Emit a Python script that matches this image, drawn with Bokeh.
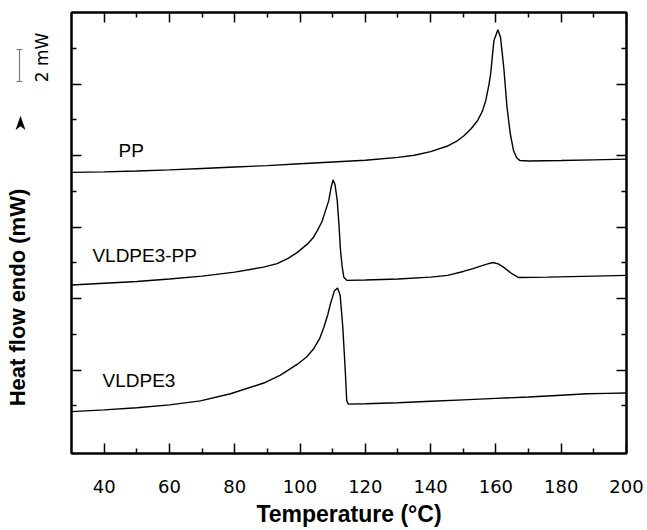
from math import pi
from bokeh.plotting import figure
from bokeh.layouts import row
from bokeh.models import Range1d, FixedTicker, LinearAxis, Label
from bokeh.core.properties import value
from bokeh.embed import file_html
from bokeh.resources import INLINE

# ---------------- data ----------------
x_major = [40, 60, 80, 100, 120, 140, 160, 180, 200]
x_minor = [50, 70, 90, 110, 130, 150, 170, 190]
y_major = [2, 4, 6, 8, 10]
y_minor = [1, 3, 5, 7, 9, 11]

T_pp = [30, 40, 50, 60, 70, 80, 90, 100, 110, 120, 130, 135, 140, 145, 148.3, 150.3,
        152.4, 154.4, 155.9, 156.9, 157.9, 158.4, 159.4, 160.6, 161.4, 162.4, 163.4,
        164.4, 165.4, 166.4, 167.4, 170, 180, 190, 200]
v_pp = [7.53, 7.545, 7.57, 7.60, 7.64, 7.68, 7.72, 7.77, 7.82, 7.87, 7.95, 8.01, 8.11,
        8.26, 8.42, 8.56, 8.75, 8.98, 9.25, 9.54, 10.0, 10.3, 11.22, 11.52, 11.31, 10.47,
        9.35, 8.61, 8.14, 7.93, 7.86, 7.85, 7.86, 7.88, 7.90]

T_blend = [30, 40, 50, 60, 70, 80, 88.8, 93, 96.2, 99, 102.3, 104, 105.3, 106.7, 107.8,
           108.8, 109.5, 110.1, 110.7, 111.4, 111.9, 112.4, 112.9, 113.4, 114.4, 120, 130,
           140, 145.2, 150, 153, 155.3, 157.5, 159.1, 160.7, 162.3, 165, 167, 175.7, 190, 200]
v_blend = [4.38, 4.43, 4.48, 4.55, 4.63, 4.74, 4.88, 4.98, 5.12, 5.28, 5.53, 5.70, 5.90,
           6.15, 6.46, 6.74, 7.10, 7.32, 7.20, 6.74, 6.10, 5.35, 4.90, 4.60, 4.51, 4.52,
           4.55, 4.60, 4.65, 4.76, 4.84, 4.91, 4.97, 5.01, 4.97, 4.88, 4.69, 4.59, 4.60,
           4.63, 4.65]

T_vl = [30, 40, 50, 60, 69.5, 78.7, 88.9, 94, 99.1, 102, 104.2, 106, 107.3, 108.5, 109.3,
        110.5, 111.5, 112.3, 113.1, 113.8, 114.3, 114.8, 120, 130, 140, 150, 160, 170,
        180, 188, 194, 200]
v_vl = [0.84, 0.89, 0.95, 1.03, 1.14, 1.34, 1.64, 1.86, 2.16, 2.37, 2.60, 2.88, 3.20, 3.55,
        3.85, 4.21, 4.30, 4.09, 3.20, 2.08, 1.15, 1.05, 1.06, 1.09, 1.13, 1.17, 1.21, 1.25,
        1.30, 1.34, 1.35, 1.36]

curve_names = ["PP", "VLDPE3-PP", "VLDPE3"]
name_pos = [(44.4, 8.14), (36.4, 5.21), (39.5, 1.71)]

y_title = "Heat flow endo (mW)"
scale_text = "2 mW"

# ---------------- left margin: y title, scale bar, arrow ----------------
# (the row aligns this panel's frame with the main frame: page rows 12..453)
LW = 69
d = figure(width=LW, height=530, output_backend="svg", toolbar_location=None,
           x_range=Range1d(0, LW), y_range=Range1d(453, 12),
           x_axis_location=None, y_axis_location=None, min_border=0,
           background_fill_color="white", border_fill_color="white")
d.grid.visible = False
d.outline_line_color = None
d.text(x=[17], y=[297], text=[y_title], angle=pi / 2,
       text_font=value("Liberation Sans"), text_font_style="bold",
       text_font_size="22px", text_color="black",
       text_align="center", text_baseline="middle")
d.text(x=[41], y=[57], text=[scale_text], angle=pi / 2,
       text_font=value("DejaVu Sans"), text_font_size="17px", text_color="black",
       text_align="center", text_baseline="middle")
# scale bar (I-beam)
d.segment(x0=[19, 16, 16], y0=[49, 49, 81], x1=[19, 22, 22], y1=[81, 49, 81],
          line_color="#7a7a7a", line_width=1.2)
# up-pointing arrow head
d.patch(x=[20, 24.5, 20, 15.5], y=[116, 129, 125.5, 129],
        fill_color="black", line_color="black", line_width=0.5)

# ---------------- main plot ----------------
p = figure(width=647 - LW, height=530, output_backend="svg", toolbar_location=None,
           x_range=Range1d(30, 200), y_range=Range1d(-0.33, 12.0),
           x_axis_location=None, y_axis_location=None,
           min_border_left=71 - LW, min_border_right=21, min_border_top=12,
           min_border_bottom=77,
           background_fill_color="white", border_fill_color="white")
p.grid.visible = False
p.outline_line_color = "black"
p.outline_line_width = 2


def mk_axis(ticker, labels=True):
    ax = LinearAxis(ticker=ticker, major_tick_in=10, major_tick_out=0,
                    minor_tick_in=5, minor_tick_out=0,
                    axis_line_color="black", axis_line_width=2,
                    major_tick_line_color="black", major_tick_line_width=1.5,
                    minor_tick_line_color="black", minor_tick_line_width=1.5)
    if not labels:
        ax.major_label_text_font_size = "0px"
        ax.major_label_text_color = None
        ax.major_label_standoff = 0
    return ax


xt = FixedTicker(ticks=x_major, minor_ticks=x_minor)
yt = FixedTicker(ticks=y_major, minor_ticks=y_minor)

xb = mk_axis(xt)
xb.major_label_text_font = "DejaVu Sans"
xb.major_label_text_font_size = "18px"
xb.major_label_text_color = "black"
xb.major_label_standoff = 26
xb.axis_label = "Temperature (°C)"
xb.axis_label_text_font = "Liberation Sans"
xb.axis_label_text_font_style = "bold"
xb.axis_label_text_font_size = "23px"
xb.axis_label_text_color = "black"
xb.axis_label_standoff = 5
p.add_layout(xb, "below")
p.add_layout(mk_axis(xt, labels=False), "above")
p.add_layout(mk_axis(yt, labels=False), "left")
p.add_layout(mk_axis(yt, labels=False), "right")

for T, v in [(T_pp, v_pp), (T_blend, v_blend), (T_vl, v_vl)]:
    p.line(T, v, line_color="black", line_width=1.4)

for name, (tx, ty) in zip(curve_names, name_pos):
    p.add_layout(Label(x=tx, y=ty, text=name, text_font="Liberation Sans",
                       text_font_size="19px", text_color="black",
                       text_align="left", text_baseline="middle"))

layout = row(d, p, spacing=0)
open("out.html", "w").write(file_html(layout, INLINE))
